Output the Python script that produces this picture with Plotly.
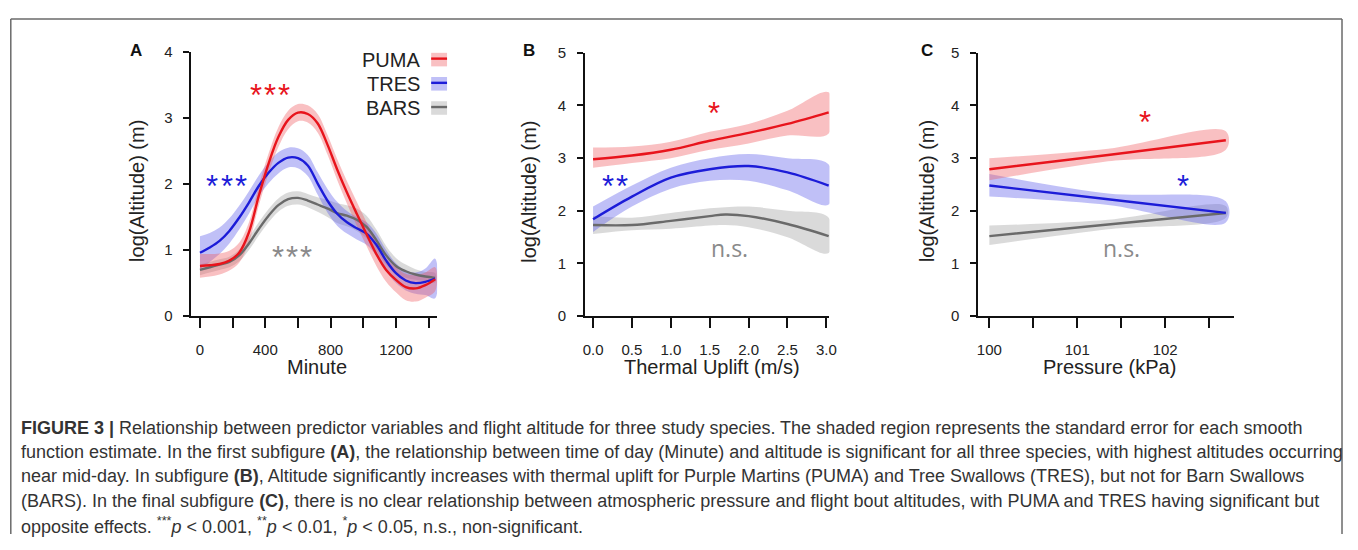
import plotly.graph_objects as go

# page is 1358x550; the browser's default 8px body margin surrounds the figure
PAGE_W, PAGE_H, OFF = 1358, 550, 8
W, H = PAGE_W - 2 * OFF, PAGE_H - 2 * OFF

# ---------------- Data ----------------
# Panel A: Minute
minute = [0, 60, 120, 180, 240, 300, 360, 420, 480, 540, 600, 660, 720, 780, 840,
          900, 960, 1020, 1080, 1140, 1200, 1260, 1320, 1380, 1440]
a_puma = [0.76, 0.77, 0.79, 0.84, 0.96, 1.27, 1.82, 2.31, 2.71, 2.97, 3.08, 3.06, 2.92,
          2.60, 2.22, 1.87, 1.55, 1.24, 0.94, 0.70, 0.55, 0.44, 0.42, 0.47, 0.56]
a_puma_se = [0.18, 0.17, 0.16, 0.15, 0.15, 0.15, 0.15, 0.15, 0.15, 0.14, 0.13, 0.13, 0.14,
             0.15, 0.16, 0.17, 0.18, 0.18, 0.18, 0.18, 0.19, 0.20, 0.20, 0.19, 0.18]
a_tres = [0.96, 1.04, 1.14, 1.29, 1.49, 1.72, 1.97, 2.17, 2.32, 2.40, 2.39, 2.28, 2.01,
          1.75, 1.55, 1.42, 1.33, 1.25, 1.08, 0.84, 0.65, 0.54, 0.50, 0.52, 0.57]
a_tres_se = [0.25, 0.22, 0.20, 0.19, 0.18, 0.17, 0.16, 0.16, 0.16, 0.15, 0.15, 0.16, 0.17,
             0.18, 0.18, 0.17, 0.17, 0.17, 0.17, 0.16, 0.15, 0.15, 0.16, 0.20, 0.30]
a_bars = [0.70, 0.74, 0.78, 0.82, 0.92, 1.10, 1.32, 1.52, 1.68, 1.77, 1.79, 1.75, 1.69,
          1.63, 1.56, 1.52, 1.46, 1.35, 1.15, 0.92, 0.76, 0.68, 0.63, 0.60, 0.58]
a_bars_se = [0.08, 0.08, 0.08, 0.08, 0.09, 0.10, 0.10, 0.10, 0.10, 0.10, 0.10, 0.10, 0.11,
             0.13, 0.15, 0.16, 0.17, 0.17, 0.16, 0.14, 0.12, 0.10, 0.08, 0.07, 0.07]

# Panel B: Thermal uplift
uplift = [0.0, 0.5, 1.0, 1.5, 2.0, 2.5, 3.03]
b_puma = [2.98, 3.05, 3.16, 3.33, 3.48, 3.65, 3.87]
b_puma_lo = [2.82, 2.91, 3.00, 3.16, 3.28, 3.43, 3.47]
b_puma_hi = [3.20, 3.22, 3.31, 3.50, 3.65, 3.90, 4.25]
b_tres = [1.84, 2.27, 2.63, 2.79, 2.85, 2.73, 2.48]
b_tres_lo = [1.60, 2.08, 2.42, 2.57, 2.57, 2.39, 2.12]
b_tres_hi = [2.08, 2.48, 2.82, 3.00, 3.08, 3.00, 2.88]
uplift_bars = [0.0, 0.5, 1.0, 1.5, 1.7, 2.0, 2.5, 3.03]
b_bars = [1.73, 1.73, 1.81, 1.90, 1.93, 1.90, 1.75, 1.52]
b_bars_lo = [1.56, 1.63, 1.66, 1.72, 1.73, 1.69, 1.50, 1.20]
b_bars_hi = [1.90, 1.87, 1.96, 2.05, 2.07, 2.08, 2.00, 1.87]

# Panel C: Pressure
pressure = [100.0, 101.35, 102.69]
c_puma = [2.79, 3.06, 3.34]
c_puma_lo = [2.58, 2.94, 3.16]
c_puma_hi = [3.00, 3.18, 3.51]
c_tres = [2.48, 2.22, 1.96]
c_tres_lo = [2.27, 2.11, 1.78]
c_tres_hi = [2.70, 2.33, 2.18]
c_bars = [1.52, 1.74, 1.96]
c_bars_lo = [1.35, 1.65, 1.87]
c_bars_hi = [1.72, 1.83, 2.09]

species = ["PUMA", "TRES", "BARS"]
a_ticks = [0, 400, 800, 1200]
a_minor = [200, 600, 1000, 1400]
b_ticks = [0.0, 0.5, 1.0, 1.5, 2.0, 2.5, 3.0]
b_ticktext = ["0.0", "0.5", "1.0", "1.5", "2.0", "2.5", "3.0"]
c_ticks = [100, 101, 102]
c_minor = [100.5, 101.5, 102.5]

# ---------------- Styles ----------------
LINE = {"PUMA": "#e8141c", "TRES": "#1c1cd8", "BARS": "#6a6a6a"}
BAND = {"PUMA": "rgba(238,90,95,0.38)", "TRES": "rgba(90,90,235,0.38)",
        "BARS": "rgba(150,150,150,0.35)"}
FONT = "Liberation Sans, Arial, Helvetica, sans-serif"


def px(x):
    return (x - OFF) / W


def py(y):
    return 1 - (y - OFF) / H


fig = go.Figure()


def add_band(xs, lo, hi, sp, ax):
    fig.add_trace(go.Scatter(
        x=list(xs) + list(xs)[::-1], y=list(hi) + list(lo)[::-1],
        fill="toself", fillcolor=BAND[sp], line=dict(width=0, shape="spline"),
        mode="lines", hoverinfo="skip", showlegend=False, xaxis="x" + ax, yaxis="y" + ax))


def add_line(xs, ys, sp, ax, shape="spline"):
    fig.add_trace(go.Scatter(
        x=xs, y=ys, mode="lines", line=dict(color=LINE[sp], width=2.4, shape=shape),
        showlegend=False, name=sp, xaxis="x" + ax, yaxis="y" + ax))


# Panel A
a_series = {"PUMA": (a_puma, a_puma_se), "TRES": (a_tres, a_tres_se), "BARS": (a_bars, a_bars_se)}
for sp in ["BARS", "TRES", "PUMA"]:
    m, se = a_series[sp]
    add_band(minute, [v - s for v, s in zip(m, se)], [v + s for v, s in zip(m, se)], sp, "")
for sp in ["BARS", "TRES", "PUMA"]:
    add_line(minute, a_series[sp][0], sp, "")

# Panel B
b_series = {"PUMA": (uplift, b_puma, b_puma_lo, b_puma_hi),
            "TRES": (uplift, b_tres, b_tres_lo, b_tres_hi),
            "BARS": (uplift_bars, b_bars, b_bars_lo, b_bars_hi)}
for sp in ["BARS", "TRES", "PUMA"]:
    xs, m, lo, hi = b_series[sp]
    add_band(xs, lo, hi, sp, "2")
for sp in ["BARS", "TRES", "PUMA"]:
    xs, m, lo, hi = b_series[sp]
    add_line(xs, m, sp, "2")

# Panel C
c_series = {"PUMA": (c_puma, c_puma_lo, c_puma_hi), "TRES": (c_tres, c_tres_lo, c_tres_hi),
            "BARS": (c_bars, c_bars_lo, c_bars_hi)}
for sp in ["BARS", "TRES", "PUMA"]:
    m, lo, hi = c_series[sp]
    add_band(pressure, lo, hi, sp, "3")
for sp in ["BARS", "TRES", "PUMA"]:
    add_line(pressure, c_series[sp][0], sp, "3", shape="spline")

axis_common = dict(showline=True, linecolor="#111", linewidth=2, ticks="outside",
                   tickcolor="#111", tickwidth=2, showgrid=False, zeroline=False,
                   tickfont=dict(family=FONT, size=15, color="#222"))
xcommon = dict(axis_common, ticklen=10, ticklabelstandoff=9)
ycommon = dict(axis_common, ticklen=6, ticklabelstandoff=8)
minor_style = dict(ticks="outside", ticklen=10, tickwidth=2, tickcolor="#111", showgrid=False)

fig.update_layout(
    width=W, height=H, margin=dict(l=0, r=0, t=0, b=0),
    paper_bgcolor="white", plot_bgcolor="rgba(0,0,0,0)", showlegend=False,
    xaxis=dict(xcommon, domain=[px(190.7), px(438)], range=[-52, 1452],
               tickvals=a_ticks, minor=dict(minor_style, tickvals=a_minor), anchor="y"),
    yaxis=dict(ycommon, domain=[py(317), py(44)], range=[0, 4],
               tickvals=[0, 1, 2, 3, 4], anchor="x"),
    xaxis2=dict(xcommon, domain=[px(587), px(833)], range=[-0.102, 3.04],
                tickvals=b_ticks, ticktext=b_ticktext, anchor="y2"),
    yaxis2=dict(ycommon, domain=[py(317), py(45)], range=[0, 5],
                tickvals=[0, 1, 2, 3, 4, 5], anchor="x2"),
    xaxis3=dict(xcommon, domain=[px(983), px(1240)], range=[99.876, 102.78],
                tickvals=c_ticks, minor=dict(minor_style, tickvals=c_minor), anchor="y3"),
    yaxis3=dict(ycommon, domain=[py(317), py(45)], range=[0, 5],
                tickvals=[0, 1, 2, 3, 4, 5], anchor="x3"),
)

ann = []


def text(x, y, s, size, color="#222", family=FONT, angle=0, xanchor="center", yanchor="middle"):
    ann.append(dict(x=px(x), y=py(y), xref="paper", yref="paper", text=s, showarrow=False,
                    font=dict(family=family, size=size, color=color), textangle=angle,
                    xanchor=xanchor, yanchor=yanchor))


def stars(xc, y, n, color, step=14.3):
    x0 = xc - step * (n - 1) / 2
    for k in range(n):
        text(x0 + k * step, y + 6, "*", 31, color=color)


# panel letters
for lab, x in [("A", 135), ("B", 531), ("C", 931)]:
    text(x, 43, "<b>%s</b>" % lab, 17, color="#111")

# axis titles
for x in [136.5, 531, 931]:
    text(x, 188, "log(Altitude) (m)", 20, angle=-90)
text(317, 369, "Minute", 20)
text(715, 369, "Thermal Uplift (m/s)", 20)
text(1115, 369, "Pressure (kPa)", 20)

# legend (panel A)
shapes = []
for i, sp in enumerate(species):
    yc = 52 + 25 * i
    text(423, yc, sp, 20, xanchor="right")
    shapes.append(dict(type="rect", xref="paper", yref="paper", x0=px(432), x1=px(448),
                       y0=py(yc + 7), y1=py(yc - 7), fillcolor=BAND[sp], line=dict(width=0)))
    shapes.append(dict(type="line", xref="paper", yref="paper", x0=px(432), x1=px(448),
                       y0=py(yc - 1), y1=py(yc - 1), line=dict(color=LINE[sp], width=2.4)))

# significance marks
stars(270, 83, 3, LINE["PUMA"])
stars(226, 177, 3, LINE["TRES"])
stars(292, 250, 3, "#8a8a8a")
stars(717, 102, 1, LINE["PUMA"])
stars(617, 177, 2, LINE["TRES"])
text(732, 247, "n.s.", 23, color="#8a8a8a", family="Open Sans, sans-serif")
stars(1151, 111, 1, LINE["PUMA"])
stars(1189, 177, 1, LINE["TRES"])
text(1127, 247, "n.s.", 23, color="#8a8a8a", family="Open Sans, sans-serif")

# caption
caption = [
    "<b>FIGURE 3 |</b> Relationship between predictor variables and flight altitude for three study species. The shaded region represents the standard error for each smooth",
    "function estimate. In the first subfigure <b>(A)</b>, the relationship between time of day (Minute) and altitude is significant for all three species, with highest altitudes occurring",
    "near mid-day. In subfigure <b>(B)</b>, Altitude significantly increases with thermal uplift for Purple Martins (PUMA) and Tree Swallows (TRES), but not for Barn Swallows",
    "(BARS). In the final subfigure <b>(C)</b>, there is no clear relationship between atmospheric pressure and flight bout altitudes, with PUMA and TRES having significant but",
    "opposite effects. <sup>***</sup><i>p</i> &lt; 0.001, <sup>**</sup><i>p</i> &lt; 0.01, <sup>*</sup><i>p</i> &lt; 0.05, n.s., non-significant.",
]
for i, line in enumerate(caption):
    text(17, 432 + 25.2 * i, line, 18, color="#333", xanchor="left")

# frame: left, top and right edges, all kept inside the figure area
FRAME = dict(color="#6a6a6a", width=1.5)
shapes.append(dict(type="line", xref="paper", yref="paper", x0=px(8.8), x1=px(8.8),
                   y0=py(542), y1=py(10), line=FRAME))
shapes.append(dict(type="line", xref="paper", yref="paper", x0=px(8.8), x1=px(1349),
                   y0=py(10), y1=py(10), line=FRAME))
shapes.append(dict(type="line", xref="paper", yref="paper", x0=px(1349), x1=px(1349),
                   y0=py(542), y1=py(10), line=FRAME))

fig.update_layout(annotations=ann, shapes=shapes)
fig.write_html("out.html", config={"displayModeBar": False})
